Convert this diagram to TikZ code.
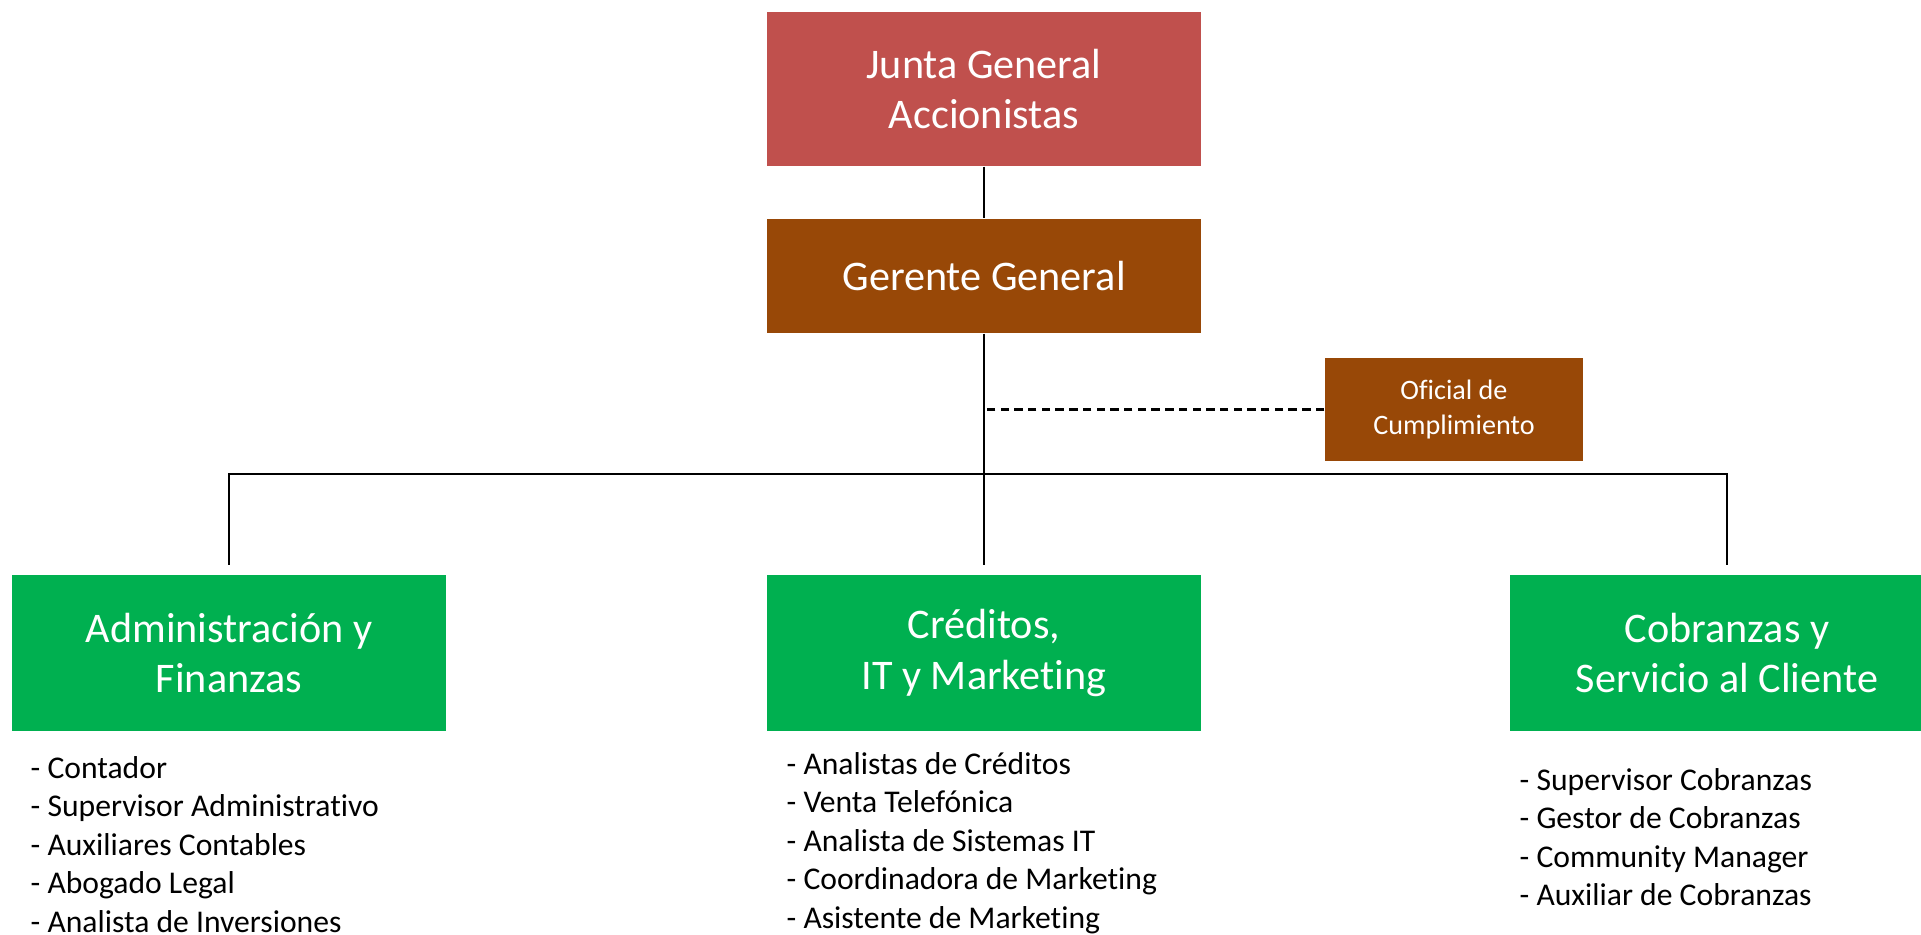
\documentclass[tikz,border=0pt]{standalone}
\usepackage{fontspec}
\setmainfont{Carlito}[RawFeature={-liga;-clig;-dlig}]

\definecolor{rojojunta}{HTML}{C0504D}
\definecolor{cafe}{HTML}{984807}
\definecolor{verde}{HTML}{00B050}

\begin{document}
\begin{tikzpicture}[
    caja/.style={minimum width=4.34cm, inner sep=0pt, align=center, text=white,
                 font=\fontsize{12}{14.4}\selectfont},
    lista/.style={anchor=north west, inner sep=0pt, align=left,
                  font=\fontsize{9}{10.95}\selectfont},
    linea/.style={line width=0.6pt}
  ]

    \useasboundingbox (0, 0) rectangle (19.21, -9.34);

    % Cajas
    \node[caja, fill=rojojunta, minimum height=1.54cm] (junta) at (9.84, -0.89) {Junta General\\Accionistas};
    \node[caja, fill=cafe, minimum height=1.14cm] (gerente) at (9.84, -2.76) {Gerente General};
    \node[caja, fill=cafe, minimum width=2.58cm, minimum height=1.03cm,
          font=\fontsize{8}{9.7}\selectfont] (oficial) at (14.54, -4.095) {Oficial de\\Cumplimiento};
    \node[caja, fill=verde, minimum height=1.56cm] (admin) at (2.29, -6.53) {Administración y\\Finanzas};
    \node[caja, fill=verde, minimum height=1.56cm] (creditos) at (9.84, -6.53) {Créditos,\\IT y Marketing};
    \node[caja, fill=verde, minimum height=1.56cm] (cobranzas) at (17.27, -6.53) {Cobranzas y\\Servicio al Cliente};

    % Líneas
    \coordinate (bus) at (9.84, -4.74);
    \draw[linea] (junta) -- (gerente);
    \draw[linea, shorten >=0.09cm] (gerente) -- (creditos);
    \draw[linea, shorten >=0.09cm] (bus) -| (admin);
    \draw[linea, shorten >=0.09cm] (bus) -| (cobranzas);
    \draw[linea, dash pattern=on 2.4pt off 1.5pt] (oficial.west) -- (oficial.west -| gerente.south);

    % Puestos
    \node[lista] (puestosadmin) at (0.30, -7.507) {\strut- Contador\\- Supervisor Administrativo\\- Auxiliares Contables\\- Abogado Legal\\- Analista de Inversiones};
    \node[lista] (puestoscreditos) at (7.86, -7.467) {\strut- Analistas de Créditos\\- Venta Telefónica\\- Analista de Sistemas IT\\- Coordinadora de Marketing\\- Asistente de Marketing};
    \node[lista] (puestoscobranzas) at (15.19, -7.627) {\strut- Supervisor Cobranzas\\- Gestor de Cobranzas\\- Community Manager\\- Auxiliar de Cobranzas};

\end{tikzpicture}
\end{document}
